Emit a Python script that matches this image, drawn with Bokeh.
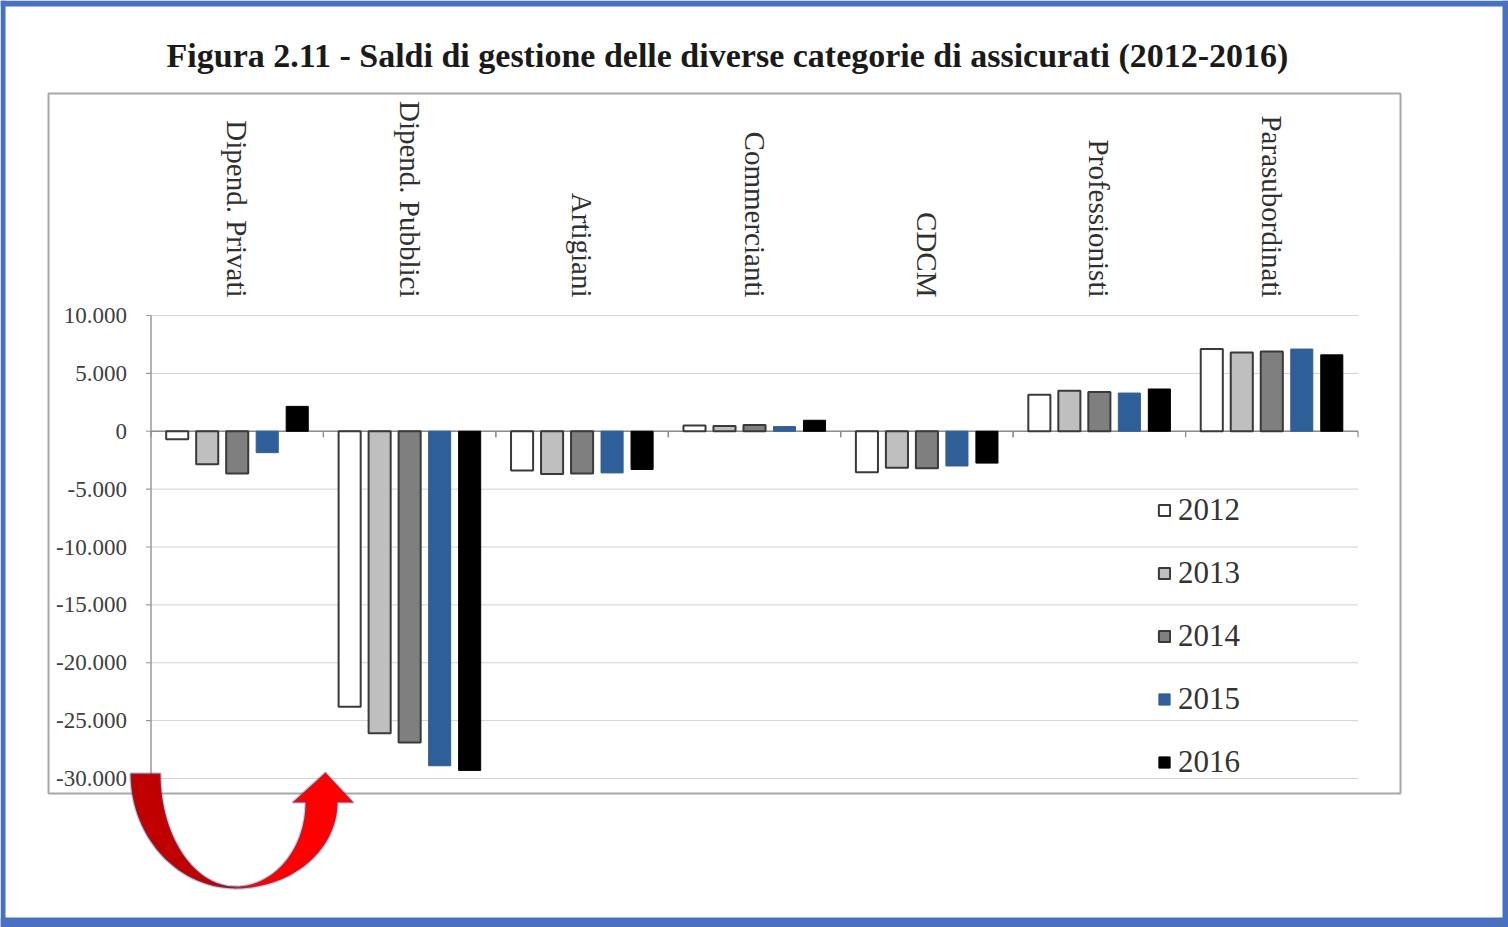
import math
from bokeh.plotting import figure
from bokeh.models import (FactorRange, Range1d, BoxAnnotation, PolyAnnotation, Label,
                          Legend, LegendItem, ColumnDataSource)
from bokeh.transform import dodge
from bokeh.embed import file_html
from bokeh.resources import INLINE

# ---------------- data ----------------
categories = ["Dipend. Privati", "Dipend. Pubblici", "Artigiani", "Commercianti",
              "CDCM", "Professionisti", "Parasubordinati"]
years = ["2012", "2013", "2014", "2015", "2016"]
v2012 = [-700, -23800, -3400, 500, -3550, 3150, 7100]
v2013 = [-2850, -26100, -3700, 450, -3150, 3500, 6800]
v2014 = [-3650, -26900, -3650, 550, -3200, 3400, 6900]
v2015 = [-1850, -28900, -3600, 400, -3000, 3300, 7100]
v2016 = [2150, -29300, -3300, 950, -2750, 3650, 6600]
y_ticks = [-30000, -25000, -20000, -15000, -10000, -5000, 0, 5000, 10000]
y_tick_labels = ["-30.000", "-25.000", "-20.000", "-15.000", "-10.000", "-5.000",
                 "0", "5.000", "10.000"]
title_text = "Figura 2.11 - Saldi di gestione delle diverse categorie di assicurati (2012-2016)"

# ---------------- layout / style ----------------
W, H = 1508, 927
plot_left_px, plot_right_px = 153, 1360
plot_top_px, plot_bottom_px = 315, 778          # pixel rows of 10000 and -30000
y_max, y_min = y_ticks[-1], y_ticks[0]
u_per_px = (y_max - y_min) / (plot_bottom_px - plot_top_px)
y_range = Range1d(y_min - (H - plot_bottom_px) * u_per_px, y_max + plot_top_px * u_per_px)
axis_bottom = y_min - 15 * u_per_px
cat_px = (plot_right_px - plot_left_px) / len(categories)
pad = (plot_left_px + (W - plot_right_px)) / 2 / cat_px

fills = ["#ffffff", "#bfbfbf", "#7f7f7f", "#2f5f98", "#000000"]
lines = ["#3a3a3a", "#3a3a3a", "#3a3a3a", "#2f5f98", "#000000"]
offsets = [-0.348, -0.174, 0.0, 0.174, 0.348]
serif = "Liberation Serif"
axis_col = "#9a9a9a"

src = ColumnDataSource(dict(cat=categories, y2012=v2012, y2013=v2013, y2014=v2014,
                            y2015=v2015, y2016=v2016))

p = figure(x_range=FactorRange(*categories, range_padding=pad, range_padding_units="absolute"),
           y_range=y_range, width=W, height=H, output_backend="svg", toolbar_location=None,
           x_axis_location=None, y_axis_location=None, min_border=0)
p.outline_line_color = None
p.background_fill_color = "white"
p.border_fill_color = "white"
p.xgrid.visible = False
p.ygrid.visible = False

first, last = categories[0], categories[-1]
n = len(y_ticks)
gsrc = ColumnDataSource(dict(x0=[first] * n, x1=[last] * n, y=y_ticks, lab=y_tick_labels))

# gridlines
p.segment(x0=dodge("x0", -0.5, range=p.x_range), x1=dodge("x1", 0.5, range=p.x_range),
          y0="y", y1="y", source=gsrc, line_color="#d2d2d2", line_width=1)
# y axis line, ticks, labels
p.segment(x0=dodge("x0", -0.5, range=p.x_range), x1=dodge("x0", -0.5, range=p.x_range),
          y0=y_max, y1=axis_bottom, source=ColumnDataSource(dict(x0=[first])),
          line_color=axis_col, line_width=1.5)
p.segment(x0=dodge("x0", -0.5 - 5 / cat_px, range=p.x_range),
          x1=dodge("x0", -0.5, range=p.x_range), y0="y", y1="y", source=gsrc,
          line_color=axis_col, line_width=1.2)
p.text(x=dodge("x0", -0.5, range=p.x_range), y="y", text="lab", source=gsrc,
       x_offset=-24, text_align="right", text_baseline="middle",
       text_font={"value": serif}, text_font_size="23px", text_color="#404040")

# zero line and category boundary ticks
p.segment(x0=dodge("x0", -0.5, range=p.x_range), x1=dodge("x1", 0.5, range=p.x_range),
          y0=0, y1=0, source=ColumnDataSource(dict(x0=[first], x1=[last])),
          line_color="#8c8c8c", line_width=1.5)
tick_len = 6 * u_per_px
p.segment(x0=dodge("cat", -0.5, range=p.x_range), y0=0,
          x1=dodge("cat", -0.5, range=p.x_range), y1=-tick_len,
          source=src, line_color="#8c8c8c", line_width=1.2)
p.segment(x0=dodge("cat", 0.5, range=p.x_range), y0=0,
          x1=dodge("cat", 0.5, range=p.x_range), y1=-tick_len,
          source=src, line_color="#8c8c8c", line_width=1.2)

# category labels (rotated, reading top to bottom)
p.text(x="cat", y=y_max, text="cat", source=src, y_offset=-18, angle=-math.pi / 2,
       text_align="right", text_baseline="middle",
       text_font={"value": serif}, text_font_size="29px", text_color="#303030")

# bars
renderers = []
for j, yr in enumerate(years):
    r = p.vbar(x=dodge("cat", offsets[j], range=p.x_range), top="y" + yr, bottom=0,
               width=0.128, source=src, fill_color=fills[j], line_color=lines[j],
               line_width=2 if j < 3 else 1)
    renderers.append(r)

legend = Legend(items=[LegendItem(label=yr, renderers=[r]) for yr, r in zip(years, renderers)],
                location=(1157, H - 780), orientation="vertical",
                glyph_width=14, glyph_height=14, label_height=36, spacing=27,
                label_standoff=7, padding=0, margin=0,
                border_line_color=None, background_fill_alpha=0,
                label_text_font=serif, label_text_font_size="31px",
                label_text_color="#333333")
p.add_layout(legend, "center")

# title
p.add_layout(Label(x=727, y=55, x_units="canvas", y_units="canvas", text=title_text,
                   text_align="center", text_baseline="middle",
                   text_font=serif, text_font_style="bold",
                   text_font_size="34px", text_color="#1a1a1a"))

# chart-area box
p.add_layout(BoxAnnotation(left=48, right=1400, top=93, bottom=793,
                           left_units="canvas", right_units="canvas",
                           top_units="canvas", bottom_units="canvas",
                           fill_alpha=0, line_color="#a8a8a8", line_width=2,
                           line_alpha=1))

# page border
blue = "#4a70c2"
for l, r_, t, b in [(0, W, 0, 6), (0, W, 917, H), (0, 5, 0, H), (1502, W, 0, H)]:
    p.add_layout(BoxAnnotation(left=l, right=r_, top=t, bottom=b,
                               left_units="canvas", right_units="canvas",
                               top_units="canvas", bottom_units="canvas",
                               fill_color=blue, fill_alpha=1, line_alpha=0))

# curved arrow decoration
N = 30
lx, ly = [], []
for i in range(N + 1):
    t = (math.pi / 2) * i / N
    lx.append(235 - 105 * math.cos(t)); ly.append(773 + 115 * math.sin(t))
for i in range(N, -1, -1):
    t = (math.pi / 2) * i / N
    lx.append(235 - 75 * math.cos(t)); ly.append(773 + 113 * math.sin(t))
rx, ry = [], []
for i in range(N + 1):
    s = (math.pi / 2) * i / N
    rx.append(235 + 102 * math.sin(s)); ry.append(802 + 86 * math.cos(s))
rx += [353, 325, 292, 305]; ry += [802, 772, 802, 802]
for i in range(N, -1, -1):
    s = (math.pi / 2) * i / N
    rx.append(235 + 70 * math.sin(s)); ry.append(802 + 84 * math.cos(s))
p.add_layout(PolyAnnotation(xs=lx, ys=ly, xs_units="canvas", ys_units="canvas",
                            fill_color="#c00000", fill_alpha=1,
                            line_color="#2f5597", line_width=2.5))
p.add_layout(PolyAnnotation(xs=rx, ys=ry, xs_units="canvas", ys_units="canvas",
                            fill_color="#ff0000", fill_alpha=1,
                            line_color="#2f5597", line_width=2.5))

open("out.html", "w").write(file_html(p, INLINE))
